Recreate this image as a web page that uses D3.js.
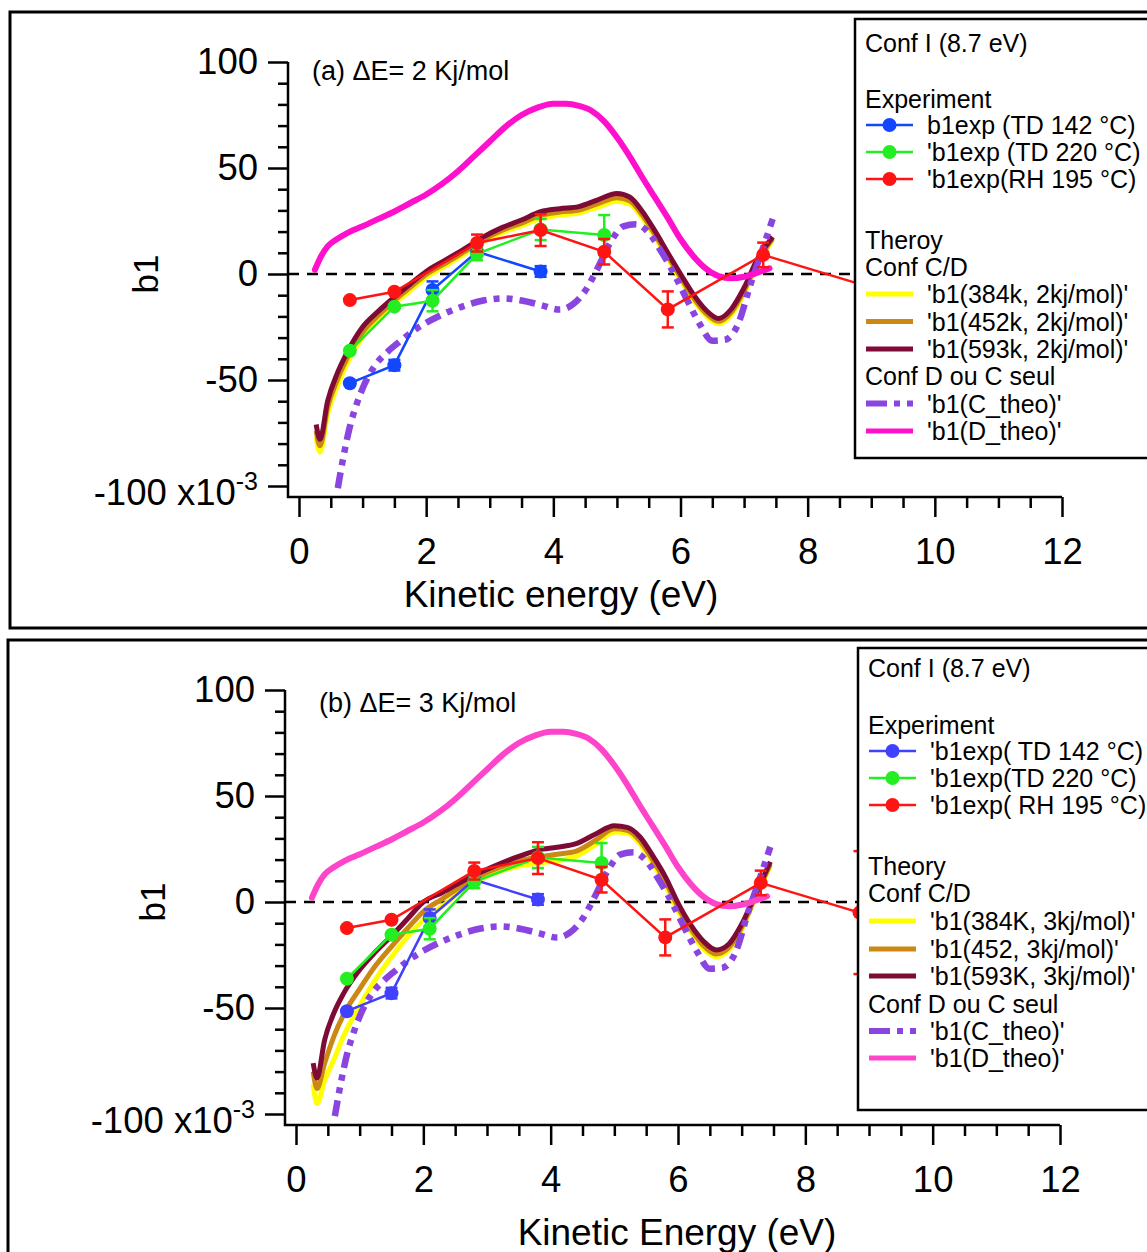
<!DOCTYPE html>
<html><head><meta charset="utf-8">
<script src="https://cdn.jsdelivr.net/npm/d3@7"></script>
<style>
body{margin:0;background:#fff}
svg{display:block;font-family:"Liberation Sans",Arial,Helvetica,sans-serif}
</style></head><body>
<svg id="c" width="1147" height="1252"></svg>
<script>
// ---------- data ----------
const xTickValues = [0, 2, 4, 6, 8, 10, 12];
const xTickLabels = ["0", "2", "4", "6", "8", "10", "12"];
const yTickValues = [-100, -50, 0, 50, 100];
const yTickLabels = ["-100 x10", "-50", "0", "50", "100"];

// experiment (same in both panels)
const blueX = [0.8, 1.5, 2.1, 2.8, 3.8];
const blueY = [-51.5, -43, -7.5, 10.5, 1.2];
const blueErr = [0, 2.5, 4, 2, 2.5];
const greenX = [0.8, 1.5, 2.1, 2.8, 3.8, 4.8];
const greenY = [-36.2, -15.4, -12.6, 9.5, 21, 18.4];
const greenErr = [0, 0, 5, 3, 5, 9.4];
const redX = [0.8, 1.5, 2.8, 3.8, 4.8, 5.8, 7.3, 8.85];
const redY = [-12.3, -8.4, 14.6, 20.7, 10.5, -16.7, 9, -5];
const redErr = [0, 0, 4, 7.5, 6, 8.5, 5.8, 29];

// theory Conf C/D
const theoryX = [0.27,0.33,0.45,0.6,0.75,1.0,1.25,1.5,1.75,2.0,2.3,2.6,2.9,3.2,3.5,3.8,4.1,4.4,4.7,5.0,5.2,5.4,5.6,5.8,6.0,6.2,6.4,6.6,6.8,7.0,7.2,7.45];
const cd384a = [-77,-84,-66,-53,-42.5,-29.5,-21,-14,-7.8,-1.5,3.8,9.5,15.3,19.6,22.8,26.2,27.8,28.8,31.6,34.3,33,26.4,17.4,7.3,-2.6,-12.1,-19.6,-23.5,-19.2,-9.2,4,16.2];
const cd452a = [-74,-81,-63,-50,-40,-27.5,-19.5,-12.5,-6.3,-0.2,5,10.5,16.3,20.7,24,27.7,29.2,30.2,33.2,36,34.5,27.8,18.6,8.5,-1.5,-11,-18.5,-22.3,-18,-8,5,16.8];
const cd593a = [-71,-78,-60,-47,-37.4,-25,-17.5,-10.9,-4.7,1.2,6.5,11.8,17.5,22,25.5,29.4,30.8,31.8,35,38,36.3,29.5,20.2,10,0,-9.5,-17,-21,-16.5,-6.5,6.5,17.5];
const cd384b = [-86,-95,-84,-74,-63,-49,-36.5,-26,-16.5,-8.5,-2,5.5,11,14.5,17,18.3,19.5,21.5,27,33,32.5,27.5,18.5,8,-4,-14,-22,-25.8,-22.5,-13,1,17];
const cd452b = [-80,-88,-76,-63,-53,-41,-30,-21,-12.5,-4.5,1.5,7.5,12.5,16.3,19.3,21.2,22.5,24,29,34.5,33.8,29,20,10,-2.5,-12.5,-20.5,-24.5,-21.5,-12,1.5,18];
const cd593b = [-76,-83,-65,-52,-43,-32,-23.5,-16,-8,0,4.5,9.5,14,18,21.5,24.5,25.8,27.5,32,36,35.2,30.8,22,12,-0.5,-10.8,-18.5,-22.6,-19.8,-10.5,2.5,19];

// Conf C alone / D alone
const cTheoX = [0.61,0.7,0.8,0.9,1.0,1.2,1.4,1.6,1.8,2.0,2.3,2.6,2.9,3.2,3.5,3.8,4.1,4.3,4.5,4.7,4.9,5.1,5.3,5.5,5.7,5.9,6.1,6.3,6.5,6.7,6.9,7.1,7.3,7.45];
const cTheoY = [-101,-86,-72,-62,-54,-43,-36.5,-31.5,-26.8,-23,-18.5,-15,-12.5,-11.5,-12.5,-14.6,-16.8,-14.5,-8,3,15,22.5,23.5,19.5,10.5,0,-12,-23.5,-31.5,-31,-24,-5,12.5,26];
const dTheoX = [0.25,0.35,0.45,0.6,0.75,1.0,1.25,1.5,1.75,2.0,2.25,2.5,2.75,3.0,3.25,3.5,3.75,4.0,4.2,4.4,4.6,4.8,5.0,5.2,5.4,5.6,5.8,6.0,6.2,6.4,6.6,6.8,7.0,7.2,7.4];
const dTheoY = [2,8.5,13,16.5,19.2,22.5,26,29.5,33.5,37.5,42.5,48.5,55.5,62.5,69.5,75,78.5,80.3,80.3,79.3,77,72,64.5,55.5,45.5,36,26.5,16.5,8.5,2.5,-1,-2,-1.3,0.5,2.7];

// legend texts
const legendA = ["Conf I (8.7 eV)", "Experiment", "b1exp (TD 142 °C)", "'b1exp (TD 220 °C)", "'b1exp(RH 195 °C)",
  "Theroy", "Conf C/D", "'b1(384k, 2kj/mol)'", "'b1(452k, 2kj/mol)'", "'b1(593k, 2kj/mol)'",
  "Conf D ou C seul", "'b1(C_theo)'", "'b1(D_theo)'"];
const legendB = ["Conf I (8.7 eV)", "Experiment", "'b1exp( TD 142 °C)", "'b1exp(TD 220 °C)", "'b1exp( RH 195 °C)",
  "Theory", "Conf C/D", "'b1(384K, 3kj/mol)'", "'b1(452, 3kj/mol)'", "'b1(593K, 3kj/mol)'",
  "Conf D ou C seul", "'b1(C_theo)'", "'b1(D_theo)'"];

// ---------- drawing ----------
const svg = d3.select("#c");
svg.append("rect").attr("width", 1147).attr("height", 1252).attr("fill", "#fff");

const zip = (xs, ys) => xs.map((v, i) => [v, ys[i]]);

function drawPanel(cfg) {
  const g = svg.append("g");
  const x = d3.scaleLinear().domain([0, 12]).range([cfg.x0, cfg.x1]);
  const y = d3.scaleLinear().domain([-100, 100]).range([cfg.yBot, cfg.yTop]);

  // outer frame
  g.append("rect").attr("x", cfg.frame[0]).attr("y", cfg.frame[1])
    .attr("width", cfg.frame[2]).attr("height", cfg.frame[3])
    .attr("fill", "none").attr("stroke", "#000").attr("stroke-width", 3);

  const clipId = "clip" + cfg.id;
  g.append("clipPath").attr("id", clipId).append("rect")
    .attr("x", cfg.axisX + 1).attr("y", cfg.yTop - 30)
    .attr("width", cfg.x1 - cfg.axisX).attr("height", cfg.axisY - cfg.yTop + 28);
  const plot = g.append("g").attr("clip-path", `url(#${clipId})`);

  // zero dashed line
  plot.append("line").attr("x1", cfg.axisX).attr("x2", x(12))
    .attr("y1", y(0)).attr("y2", y(0))
    .attr("stroke", "#000").attr("stroke-width", 2.5).attr("stroke-dasharray", "11,8");

  const line = d3.line().x(d => x(d[0])).y(d => y(d[1])).curve(d3.curveMonotoneX);
  const lineLin = d3.line().x(d => x(d[0])).y(d => y(d[1]));

  // theory curves
  const th = [
    { ys: cfg.cd[0], color: "#ffff00" },
    { ys: cfg.cd[1], color: "#cc8814" },
    { ys: cfg.cd[2], color: "#7e0a36" }
  ];
  th.forEach(t => {
    plot.append("path").attr("d", line(zip(theoryX, t.ys)))
      .attr("fill", "none").attr("stroke", t.color).attr("stroke-width", 5)
      .attr("stroke-linejoin", "round");
  });
  plot.append("path").attr("d", line(zip(cTheoX, cTheoY)))
    .attr("fill", "none").attr("stroke", cfg.purple).attr("stroke-width", 6.5)
    .attr("stroke-dasharray", "16,7,6,7,6,7");
  plot.append("path").attr("d", line(zip(dTheoX, dTheoY)))
    .attr("fill", "none").attr("stroke", cfg.magenta).attr("stroke-width", 6)
    .attr("stroke-linecap", "round");

  // experiment
  const exps = [
    { xs: blueX, ys: blueY, es: blueErr, color: cfg.blue },
    { xs: greenX, ys: greenY, es: greenErr, color: "#22ee22" },
    { xs: redX, ys: redY, es: redErr, color: "#ff1414" }
  ];
  exps.forEach(s => {
    const pts = s.xs.map((v, i) => ({ x: v, y: s.ys[i], e: s.es[i] }));
    g.append("path").attr("d", lineLin(pts.map(p => [p.x, p.y])))
      .attr("fill", "none").attr("stroke", s.color).attr("stroke-width", 2.5);
    const eb = g.append("g").attr("stroke", s.color).attr("stroke-width", 2.5);
    pts.filter(p => p.e > 0).forEach(p => {
      const cx = x(p.x);
      eb.append("line").attr("x1", cx).attr("x2", cx).attr("y1", y(p.y - p.e)).attr("y2", y(p.y + p.e));
      eb.append("line").attr("x1", cx - 6).attr("x2", cx + 6).attr("y1", y(p.y - p.e)).attr("y2", y(p.y - p.e));
      eb.append("line").attr("x1", cx - 6).attr("x2", cx + 6).attr("y1", y(p.y + p.e)).attr("y2", y(p.y + p.e));
    });
    g.selectAll(null).data(pts).enter().append("circle")
      .attr("cx", p => x(p.x)).attr("cy", p => y(p.y)).attr("r", 7).attr("fill", s.color);
  });

  // axes lines (Igor-style joined corner)
  g.append("path")
    .attr("d", `M${cfg.axisX},${cfg.yTop}V${cfg.axisY}H${x(12)}`)
    .attr("fill", "none").attr("stroke", "#000").attr("stroke-width", 2.5);

  // y axis
  const yMajor = d3.axisLeft(y).tickValues(yTickValues)
    .tickFormat((d, i) => yTickLabels[i]).tickSize(20).tickPadding(10).tickSizeOuter(0);
  const yMinor = d3.axisLeft(y).tickValues(d3.range(-100, 101, 10).filter(v => v % 50 !== 0))
    .tickFormat("").tickSize(10).tickSizeOuter(0);
  const ya = g.append("g").attr("transform", `translate(${cfg.axisX},0)`).call(yMajor);
  const ym = g.append("g").attr("transform", `translate(${cfg.axisX},0)`).call(yMinor);
  [ya, ym].forEach(a => {
    a.select(".domain").remove();
    a.selectAll(".tick line").attr("stroke", "#000").attr("stroke-width", 2.5);
  });
  ya.selectAll(".tick text").attr("font-size", 36.5).attr("fill", "#000")
    .attr("font-family", '"Liberation Sans",Arial,sans-serif');
  ya.selectAll(".tick").filter(d => d === -100).select("text")
    .attr("dy", "0.52em")
    .append("tspan").attr("dy", "-0.62em").attr("font-size", 25).text("-3");

  // x axis
  const xMajor = d3.axisBottom(x).tickValues(xTickValues)
    .tickFormat((d, i) => xTickLabels[i]).tickSize(20).tickPadding(21).tickSizeOuter(0);
  const xMinor = d3.axisBottom(x).tickValues(d3.range(0, 12.01, 0.5).filter(v => v % 2 !== 0))
    .tickFormat("").tickSize(11).tickSizeOuter(0);
  const xa = g.append("g").attr("transform", `translate(0,${cfg.axisY})`).call(xMajor);
  const xm = g.append("g").attr("transform", `translate(0,${cfg.axisY})`).call(xMinor);
  [xa, xm].forEach(a => {
    a.select(".domain").remove();
    a.selectAll(".tick line").attr("stroke", "#000").attr("stroke-width", 2.5);
  });
  xa.selectAll(".tick text").attr("font-size", 36.5).attr("fill", "#000")
    .attr("font-family", '"Liberation Sans",Arial,sans-serif');

  // axis titles
  g.append("text").attr("x", cfg.xTitle[0]).attr("y", cfg.xTitle[1])
    .attr("text-anchor", "middle").attr("font-size", 37).text(cfg.xTitleText);
  g.append("text").attr("transform", `translate(${cfg.yTitle[0]},${cfg.yTitle[1]}) rotate(-90)`)
    .attr("text-anchor", "middle").attr("font-size", 35).text("b1");

  // annotation
  g.append("text").attr("x", cfg.note[0]).attr("y", cfg.note[1])
    .attr("font-size", 27).text(cfg.noteText);

  // legend
  const L = cfg.legend;
  const lg = g.append("g");
  lg.append("rect").attr("x", L.x).attr("y", L.y).attr("width", 400).attr("height", L.h)
    .attr("fill", "#fff").attr("stroke", "#000").attr("stroke-width", 2.5);
  const kinds = ["h", "h", "e0", "e1", "e2", "h", "h", "t0", "t1", "t2", "h", "c", "d"];
  const expColors = [cfg.blue, "#22ee22", "#ff1414"];
  const thColors = ["#ffff00", "#cc8814", "#7e0a36"];
  cfg.legendText.forEach((txt, i) => {
    const cy = L.rows[i];
    const k = kinds[i];
    const sx0 = L.x + 11, sx1 = L.x + 58;
    if (k === "h") {
      lg.append("text").attr("x", L.x + 10).attr("y", cy + 9).attr("font-size", 25).text(txt);
      return;
    }
    if (k[0] === "e") {
      const c = expColors[+k[1]];
      lg.append("line").attr("x1", sx0).attr("x2", sx1).attr("y1", cy).attr("y2", cy)
        .attr("stroke", c).attr("stroke-width", 2.5);
      lg.append("circle").attr("cx", (sx0 + sx1) / 2).attr("cy", cy).attr("r", 7).attr("fill", c);
    } else if (k[0] === "t") {
      lg.append("line").attr("x1", sx0).attr("x2", sx1).attr("y1", cy).attr("y2", cy)
        .attr("stroke", thColors[+k[1]]).attr("stroke-width", 5);
    } else if (k === "c") {
      lg.append("line").attr("x1", sx0).attr("x2", sx1).attr("y1", cy).attr("y2", cy)
        .attr("stroke", cfg.purple).attr("stroke-width", 6).attr("stroke-dasharray", "21,7,6,7,6");
    } else if (k === "d") {
      lg.append("line").attr("x1", sx0).attr("x2", sx1).attr("y1", cy).attr("y2", cy)
        .attr("stroke", cfg.magenta).attr("stroke-width", 5);
    }
    lg.append("text").attr("x", L.x + 72).attr("y", cy + 9).attr("font-size", 25).text(txt);
  });
}

drawPanel({
  id: "a",
  frame: [10, 12, 1150, 616],
  x0: 299, x1: 1062, yTop: 62, yBot: 486, axisX: 288, axisY: 497,
  cd: [cd384a, cd452a, cd593a],
  blue: "#1246ff", purple: "#8a44e0", magenta: "#ff10cc",
  xTitle: [561, 607], xTitleText: "Kinetic energy (eV)",
  yTitle: [158, 274],
  note: [312, 80], noteText: "(a) \u0394E= 2 Kj/mol",
  legend: { x: 855, y: 19, h: 439, rows: [43, 99, 125, 152, 179, 240, 267, 294, 321.5, 349, 376, 403.5, 431] },
  legendText: legendA
});

drawPanel({
  id: "b",
  frame: [8, 640, 1150, 640],
  x0: 296, x1: 1060, yTop: 690, yBot: 1114, axisX: 285, axisY: 1125,
  cd: [cd384b, cd452b, cd593b],
  blue: "#4040ff", purple: "#8a44e0", magenta: "#ff44cc",
  xTitle: [677, 1245], xTitleText: "Kinetic Energy (eV)",
  yTitle: [165, 902],
  note: [319, 712], noteText: "(b) \u0394E= 3 Kj/mol",
  legend: { x: 858, y: 648, h: 462, rows: [668, 725, 751, 778, 805, 866, 893, 921, 949, 976, 1004, 1031, 1058] },
  legendText: legendB
});
</script>
</body></html>
